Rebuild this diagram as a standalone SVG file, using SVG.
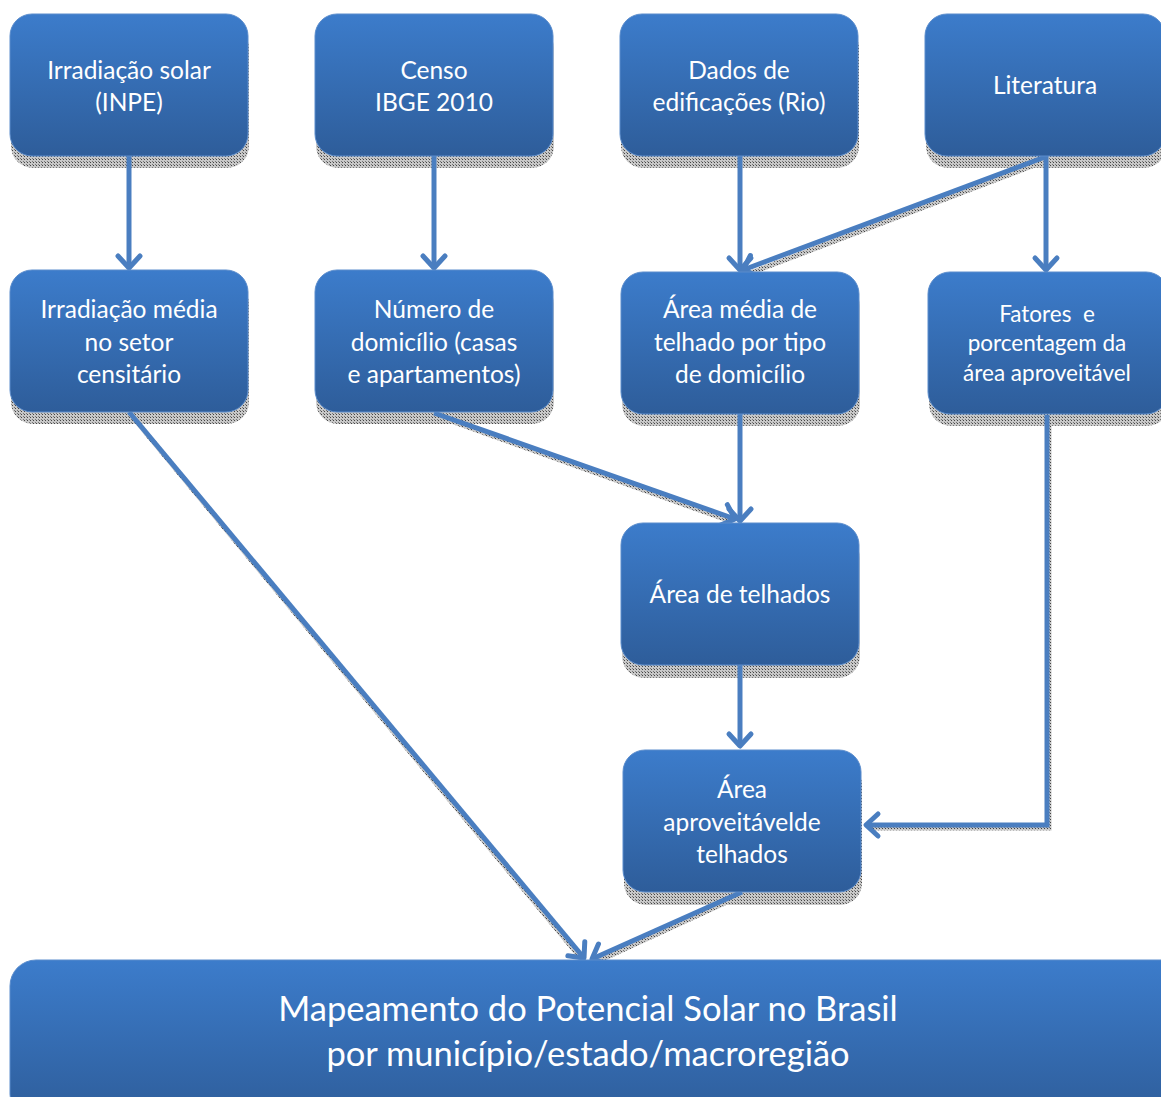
<svg xmlns="http://www.w3.org/2000/svg" width="1161" height="1097" viewBox="0 0 1161 1097">
<style>
.box{fill:url(#g);stroke:#5a8ccc;stroke-width:1}
.sh{fill:url(#dots)}
.t{font-family:Lato,"Open Sans","Liberation Sans",sans-serif;font-size:24.5px;fill:#ffffff;text-anchor:middle}
.ts{font-size:22.5px}
.tb{font-size:34.5px}
.c{fill:none;stroke:#4a7ec0;stroke-width:5;marker-end:url(#ah)}
.cs{fill:none;stroke:url(#dots);stroke-width:5}
</style>
<defs>
<linearGradient id="g" x1="0" y1="0" x2="0" y2="1">
<stop offset="0" stop-color="#3c7ccb"/>
<stop offset="1" stop-color="#2e5d9a"/>
</linearGradient>
<pattern id="dots" width="3" height="3" patternUnits="userSpaceOnUse">
<rect width="3" height="3" fill="#c8c8c8"/>
<rect width="1" height="1" fill="#444"/>
<rect x="2" y="2" width="1" height="1" fill="#777"/>
</pattern>
<marker id="ah" markerUnits="userSpaceOnUse" markerWidth="30" markerHeight="30" viewBox="-16 -15 20 30" refX="0" refY="0" orient="auto">
<path d="M-12,-11 L0,0 L-12,11" fill="none" stroke="#4a7ec0" stroke-width="5" stroke-linecap="round" stroke-linejoin="round"/>
</marker>
</defs>

<g id="shadows">
<rect class="sh" x="11" y="26" width="238" height="142" rx="22"/>
<rect class="sh" x="316" y="26" width="238" height="142" rx="22"/>
<rect class="sh" x="621" y="26" width="238" height="142" rx="22"/>
<rect class="sh" x="926" y="26" width="240" height="142" rx="22"/>
<rect class="sh" x="11" y="282" width="238" height="142" rx="22"/>
<rect class="sh" x="316" y="282" width="238" height="142" rx="22"/>
<rect class="sh" x="622" y="284" width="238" height="142" rx="22"/>
<rect class="sh" x="929" y="284" width="240" height="142" rx="22"/>
<rect class="sh" x="622" y="536" width="238" height="142" rx="22"/>
<rect class="sh" x="624" y="763" width="238" height="142" rx="22"/>
</g>

<g id="connectors">
<path class="cs" d="M1045,161 L748,274"/>
<path class="cs" d="M437,416 L730,521"/>
<path class="cs" d="M132,416 L584,962"/>
<path class="cs" d="M742,895 L594,963"/>
<path class="cs" d="M1049,418 L1049,828 L870,828"/>
<path class="c" d="M129,156 L129,268"/>
<path class="c" d="M434,156 L434,268"/>
<path class="c" d="M740,156 L740,270"/>
<path class="c" d="M1045,157 L743,270"/>
<path class="c" d="M1046,156 L1046,270"/>
<path class="c" d="M129,412 L584,958"/>
<path class="c" d="M434,413 L735,519"/>
<path class="c" d="M740,412 L740,521"/>
<path class="c" d="M740,665 L740,746"/>
<path class="c" d="M1047,415 L1047,825 L866,825"/>
<path class="c" d="M742,892 L592,959"/>
</g>

<g id="n1"><rect class="box" x="10" y="14" width="238" height="142" rx="22"/>
<text class="t" x="129" y="79">Irradiação solar</text><text class="t" x="129" y="111">(INPE)</text></g>
<g id="n2"><rect class="box" x="315" y="14" width="238" height="142" rx="22"/>
<text class="t" x="434" y="79">Censo</text><text class="t" x="434" y="111">IBGE 2010</text></g>
<g id="n3"><rect class="box" x="620" y="14" width="238" height="142" rx="22"/>
<text class="t" x="739" y="79">Dados de</text><text class="t" x="739" y="111">edificações (Rio)</text></g>
<g id="n4"><rect class="box" x="925" y="14" width="240" height="142" rx="22"/>
<text class="t" x="1045" y="94">Literatura</text></g>

<g id="n5"><rect class="box" x="10" y="270" width="238" height="142" rx="22"/>
<text class="t" x="129" y="318">Irradiação média</text><text class="t" x="129" y="351">no setor</text><text class="t" x="129" y="383">censitário</text></g>
<g id="n6"><rect class="box" x="315" y="270" width="238" height="142" rx="22"/>
<text class="t" x="434" y="318">Número de</text><text class="t" x="434" y="351">domicílio (casas</text><text class="t" x="434" y="383">e apartamentos)</text></g>
<g id="n7"><rect class="box" x="621" y="272" width="238" height="142" rx="22"/>
<text class="t" x="740" y="318">Área média de</text><text class="t" x="740" y="351">telhado por tipo</text><text class="t" x="740" y="383">de domicílio</text></g>
<g id="n8"><rect class="box" x="928" y="272" width="240" height="142" rx="22"/>
<text class="t ts" x="1047" y="322" style="white-space:pre">Fatores  e</text><text class="t ts" x="1047" y="351">porcentagem da</text><text class="t ts" x="1047" y="381">área aproveitável</text></g>

<g id="n9"><rect class="box" x="621" y="523" width="238" height="142" rx="22"/>
<text class="t" x="740" y="603">Área de telhados</text></g>
<g id="n10"><rect class="box" x="623" y="750" width="238" height="142" rx="22"/>
<text class="t" x="742" y="798">Área</text><text class="t" x="742" y="831">aproveitávelde</text><text class="t" x="742" y="863">telhados</text></g>

<g id="n11"><rect class="box" x="10" y="960" width="1180" height="160" rx="26"/>
<text class="t tb" x="588" y="1021">Mapeamento do Potencial Solar no Brasil</text><text class="t tb" x="588" y="1066">por município/estado/macroregião</text></g>
</svg>
